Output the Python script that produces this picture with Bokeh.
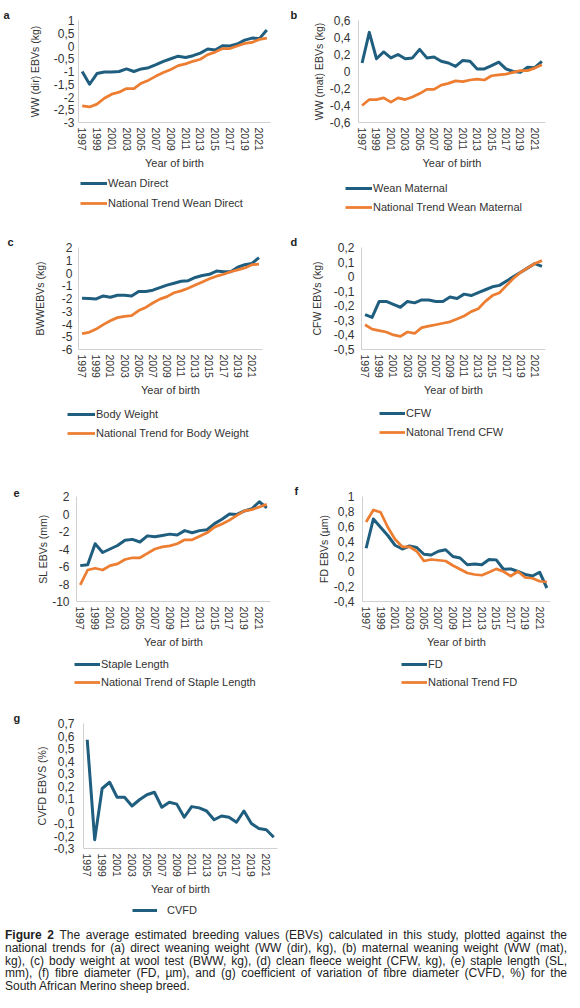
from bokeh.plotting import figure
from bokeh.models import (Range1d, FixedTicker, CustomJSTickFormatter, Legend,
                          LegendItem, Div)
from bokeh.layouts import column, row
from bokeh.embed import file_html
from bokeh.resources import INLINE

# ---------------- data ----------------
YEARS = [1997, 1998, 1999, 2000, 2001, 2002, 2003, 2004, 2005, 2006, 2007, 2008, 2009,
         2010, 2011, 2012, 2013, 2014, 2015, 2016, 2017, 2018, 2019, 2020, 2021, 2022]
YEAR_TICKS = [1997, 1999, 2001, 2003, 2005, 2007, 2009, 2011, 2013, 2015, 2017, 2019, 2021]

WW_DIR = [-1.0, -1.5, -1.08, -1.02, -1.02, -1.0, -0.9, -1.0, -0.9, -0.85, -0.73, -0.6, -0.5,
          -0.4, -0.45, -0.38, -0.28, -0.12, -0.16, 0.01, 0.0, 0.08, 0.23, 0.31, 0.29, 0.63]
WW_DIR_NAT = [-2.35, -2.39, -2.28, -2.05, -1.89, -1.81, -1.67, -1.67, -1.46, -1.34, -1.18, -1.04, -0.92,
              -0.77, -0.7, -0.6, -0.52, -0.34, -0.24, -0.1, -0.1, 0.0, 0.1, 0.14, 0.26, 0.31]
WW_DIR_TICKS = [-3, -2.5, -2, -1.5, -1, -0.5, 0, 0.5, 1]

WW_MAT = [0.1, 0.46, 0.15, 0.23, 0.16, 0.2, 0.15, 0.16, 0.26, 0.16, 0.17, 0.12, 0.1,
          0.06, 0.13, 0.12, 0.03, 0.03, 0.07, 0.11, 0.03, 0.0, -0.01, 0.05, 0.045, 0.12]
WW_MAT_NAT = [-0.4, -0.33, -0.33, -0.31, -0.36, -0.31, -0.33, -0.3, -0.26, -0.21, -0.21, -0.16, -0.14,
              -0.11, -0.12, -0.1, -0.09, -0.1, -0.05, -0.04, -0.03, -0.01, 0.01, 0.01, 0.04, 0.08]
WW_MAT_TICKS = [-0.6, -0.4, -0.2, 0, 0.2, 0.4, 0.6]

BWW = [-1.98, -2.0, -2.03, -1.8, -1.9, -1.75, -1.75, -1.8, -1.45, -1.45, -1.35, -1.15, -0.95,
       -0.8, -0.65, -0.6, -0.35, -0.2, -0.1, 0.15, 0.1, 0.1, 0.45, 0.65, 0.75, 1.2]
BWW_NAT = [-4.75, -4.65, -4.4, -4.05, -3.75, -3.5, -3.4, -3.35, -2.95, -2.7, -2.35, -2.05, -1.85,
           -1.55, -1.4, -1.2, -0.95, -0.7, -0.45, -0.25, -0.1, 0.1, 0.25, 0.4, 0.65, 0.7]
BWW_TICKS = [-6, -5, -4, -3, -2, -1, 0, 1, 2]

CFW = [-0.26, -0.28, -0.17, -0.17, -0.19, -0.21, -0.17, -0.18, -0.16, -0.16, -0.17, -0.17, -0.14,
       -0.15, -0.12, -0.13, -0.11, -0.09, -0.07, -0.06, -0.03, 0.0, 0.03, 0.06, 0.09, 0.07]
CFW_NAT = [-0.33, -0.36, -0.37, -0.38, -0.4, -0.41, -0.38, -0.39, -0.35, -0.34, -0.33, -0.32, -0.31,
           -0.29, -0.27, -0.24, -0.22, -0.17, -0.13, -0.11, -0.06, -0.01, 0.03, 0.06, 0.09, 0.11]
CFW_TICKS = [-0.5, -0.4, -0.3, -0.2, -0.1, 0, 0.1, 0.2]

SL = [-5.9, -5.8, -3.4, -4.4, -4.0, -3.6, -3.0, -2.9, -3.2, -2.5, -2.6, -2.45, -2.3,
      -2.4, -1.9, -2.15, -1.9, -1.8, -1.1, -0.6, 0.0, -0.05, 0.35, 0.6, 1.4, 0.7]
SL_NAT = [-8.1, -6.4, -6.2, -6.4, -5.9, -5.7, -5.2, -5.0, -5.0, -4.5, -4.0, -3.75, -3.65,
          -3.4, -2.95, -2.95, -2.55, -2.15, -1.5, -1.15, -0.7, -0.15, 0.35, 0.5, 0.8, 1.1]
SL_TICKS = [-10, -8, -6, -4, -2, 0, 2]

FD = [0.31, 0.7, 0.59, 0.48, 0.35, 0.3, 0.34, 0.32, 0.23, 0.22, 0.27, 0.29, 0.2,
      0.18, 0.09, 0.1, 0.09, 0.16, 0.155, 0.03, 0.035, 0.0, -0.04, -0.06, -0.01, -0.22]
FD_NAT = [0.66, 0.82, 0.79, 0.59, 0.43, 0.33, 0.33, 0.27, 0.14, 0.16, 0.15, 0.14, 0.08,
          0.03, -0.02, -0.04, -0.05, -0.01, 0.035, 0.0, -0.06, 0.0, -0.08, -0.09, -0.13, -0.14]
FD_TICKS = [-0.4, -0.2, 0, 0.2, 0.4, 0.6, 0.8, 1]

CVFD = [0.57, -0.23, 0.18, 0.23, 0.11, 0.11, 0.04, 0.09, 0.13, 0.15, 0.03, 0.07, 0.055,
        -0.05, 0.035, 0.025, 0.0, -0.07, -0.04, -0.05, -0.09, 0.0, -0.1, -0.14, -0.15, -0.21]
CVFD_TICKS = [-0.3, -0.2, -0.1, 0, 0.1, 0.2, 0.3, 0.4, 0.5, 0.6, 0.7]

CAPTION_LINES = [
    "<b>Figure 2</b> The average estimated breeding values (EBVs) calculated in this study, plotted against the",
    "national trends for (a) direct weaning weight (WW (dir), kg), (b) maternal weaning weight (WW (mat),",
    "kg), (c) body weight at wool test (BWW, kg), (d) clean fleece weight (CFW, kg), (e) staple length (SL,",
    "mm), (f) fibre diameter (FD, \u00b5m), and (g) coefficient of variation of fibre diameter (CVFD, %) for the",
    "South African Merino sheep breed.",
]

# ---------------- style ----------------
BLUE = "#1f5e7e"
ORANGE = "#ed7d31"
FONT = "Liberation Sans"
TXT = "#333333"
AXIS = "#d0d0d0"
AXIS_BLOCK = 52   # room kept below each frame for the x-axis labels and title
COL_W = 290
ROW_H = [225, 245, 230, 225]

PANELS = [
    dict(letter="a", ytitle="WW (dir) EBVs (kg)", yr=(-3, 1), ticks=WW_DIR_TICKS,
         series=[("Wean Direct", WW_DIR, BLUE), ("National Trend Wean Direct", WW_DIR_NAT, ORANGE)],
         frame=(78, 20, 270, 122), lx=3, leg=(80, 183, 203, 27, 1), ystand=(4, 10)),
    dict(letter="b", ytitle="WW (mat) EBVs (kg)", yr=(-0.6, 0.6), ticks=WW_MAT_TICKS,
         series=[("Wean Maternal", WW_MAT, BLUE), ("National Trend Wean Maternal", WW_MAT_NAT, ORANGE)],
         frame=(68, 18, 255, 125), lx=0, leg=(55, 188, 207, 27, 1), ystand=(8, 2)),
    dict(letter="c", ytitle="BWWEBVs (kg)", yr=(-6, 2), ticks=BWW_TICKS,
         series=[("Body Weight", BWW, BLUE), ("National Trend for Body Weight", BWW_NAT, ORANGE)],
         frame=(78, 22, 262, 124), lx=7, leg=(67, 189, 208, 28, 1), ystand=(6, 13)),
    dict(letter="d", ytitle="CFW EBVs (kg)", yr=(-0.5, 0.2), ticks=CFW_TICKS,
         series=[("CFW", CFW, BLUE), ("Natonal Trend CFW", CFW_NAT, ORANGE)],
         frame=(71, 21, 255, 126), lx=0, leg=(89, 188, 207, 26, 1), ystand=(7, 8)),
    dict(letter="e", ytitle="SL EBVs (mm)", yr=(-10, 2), ticks=SL_TICKS,
         series=[("Staple Length", SL, BLUE), ("National Trend of Staple Length", SL_NAT, ORANGE)],
         frame=(76, 25, 270, 133), lx=13, leg=(74, 194, 212, 26, 1), ystand=(7, 0)),
    dict(letter="f", ytitle="FD EBVs (\u00b5m)", yr=(-0.4, 1), ticks=FD_TICKS,
         series=[("FD", FD, BLUE), ("National Trend FD", FD_NAT, ORANGE)],
         frame=(72, 26, 260, 131), lx=4, leg=(111, 194, 212, 26, 1), ystand=(8, 1)),
    dict(letter="g", ytitle="CVFD EBVS (%)", yr=(-0.3, 0.7), ticks=CVFD_TICKS,
         series=[("CVFD", CVFD, BLUE)],
         frame=(83, 23, 277, 148), lx=13, leg=(132, 210, 210, 25, 10), ystand=(9, 3)),
]

FMT = CustomJSTickFormatter(code="""
    const v = Math.round(tick * 1000) / 1000;
    return (v === 0 ? "0" : v.toString()).replace(".", ",");
""")


def line_width(col):
    return 3 if col == BLUE else 2.75


def make_chart(cfg, Hc):
    W = COL_W
    L, T, R, B = cfg["frame"]
    p = figure(width=W, height=Hc, output_backend="svg", toolbar_location=None,
               x_range=Range1d(1996.5, 2022.5), y_range=Range1d(*cfg["yr"]),
               min_border_left=L, min_border_right=W - R,
               min_border_top=T, min_border_bottom=Hc - B,
               background_fill_color="white", border_fill_color="white",
               title=cfg["letter"])
    p.outline_line_color = None
    p.xgrid.visible = False
    p.ygrid.visible = False

    p.title.align = "left"
    p.title.offset = cfg["lx"] - L
    p.title.standoff = 0
    p.title.text_font = FONT
    p.title.text_font_size = "11px"
    p.title.text_font_style = "bold"
    p.title.text_color = "#222222"

    for ax in (p.xaxis[0], p.yaxis[0]):
        ax.axis_line_color = AXIS
        ax.axis_line_width = 1
        ax.major_tick_line_color = None
        ax.minor_tick_line_color = None
        ax.major_tick_out = 0
        ax.major_tick_in = 0
        ax.major_label_text_font = FONT
        ax.major_label_text_color = TXT
        ax.axis_label_text_font = FONT
        ax.axis_label_text_color = TXT
        ax.axis_label_text_font_style = "normal"

    xa = p.xaxis[0]
    xa.ticker = FixedTicker(ticks=YEAR_TICKS)
    xa.major_label_orientation = "vertical"
    xa.major_label_text_font_size = "10.5px"
    xa.major_label_standoff = 5
    xa.axis_label = "Year of birth"
    xa.axis_label_text_font_size = "11px"
    xa.axis_label_standoff = 3

    ya = p.yaxis[0]
    ya.ticker = FixedTicker(ticks=cfg["ticks"])
    ya.formatter = FMT
    ya.major_label_text_font_size = "12px"
    ya.major_label_standoff = cfg["ystand"][0]
    ya.axis_label = cfg["ytitle"]
    ya.axis_label_text_font_size = "10.5px"
    ya.axis_label_standoff = cfg["ystand"][1]

    for name, vals, col in cfg["series"]:
        p.line(YEARS, vals, line_color=col, line_width=line_width(col), line_join="round")
    return p


def make_strip(cfgs, Hc, Hl):
    """A plot with no axes holding the legends of one row of panels."""
    q = figure(width=2 * COL_W, height=Hl, output_backend="svg", toolbar_location=None,
               x_range=Range1d(3000, 3001), y_range=Range1d(0, 1),
               x_axis_type=None, y_axis_type=None,
               min_border_left=0, min_border_right=0, min_border_top=0, min_border_bottom=0,
               background_fill_color="white", border_fill_color="white")
    q.outline_line_color = None
    gh = 14
    for k, cfg in enumerate(cfgs):
        ox = k * COL_W
        items = []
        for name, vals, col in cfg["series"]:
            r = q.line(YEARS, vals, line_color=col, line_width=line_width(col), line_join="round")
            items.append(LegendItem(label=name, renderers=[r]))
        lx, c1, c2, gw, ls = cfg["leg"]
        n = len(items)
        sp = max(0, (c2 - c1) - gh)
        leg_h = n * gh + (n - 1) * sp
        top_in_strip = (c1 - gh / 2) - Hc
        vy = Hl - top_in_strip - leg_h
        q.add_layout(Legend(items=items, location=(ox + lx, vy),
                            orientation="vertical", border_line_color=None,
                            background_fill_alpha=0, padding=0, margin=0, spacing=int(sp),
                            glyph_width=gw, glyph_height=gh, label_height=gh,
                            label_standoff=ls, label_text_font=FONT,
                            label_text_font_size="11px", label_text_color=TXT), "center")
    return q


blocks = []
for ri, H in enumerate(ROW_H):
    cfgs = PANELS[2 * ri: 2 * ri + 2]
    Hc = max(c["frame"][3] for c in cfgs) + AXIS_BLOCK
    charts = [make_chart(c, Hc) for c in cfgs]
    blocks.append(row(*charts, spacing=0))
    blocks.append(make_strip(cfgs, Hc, H - Hc))

line_html = []
for i, t in enumerate(CAPTION_LINES):
    if i == len(CAPTION_LINES) - 1:
        line_html.append(f'<div style="width:562px;text-align:left;white-space:nowrap;">{t}</div>')
    else:
        line_html.append(f'<div style="width:562px;text-align:justify;text-align-last:justify;'
                         f'white-space:normal;">{t}</div>')
caption = Div(text="".join(line_html), width=575, height=78,
              styles={"font-family": "'Liberation Sans', Arial, sans-serif",
                      "font-size": "12px", "line-height": "12.75px", "color": "#222222",
                      "margin-top": "4px", "margin-left": "5px"})

page = column(*blocks, caption, spacing=0)

open("out.html", "w").write(file_html(page, INLINE))
